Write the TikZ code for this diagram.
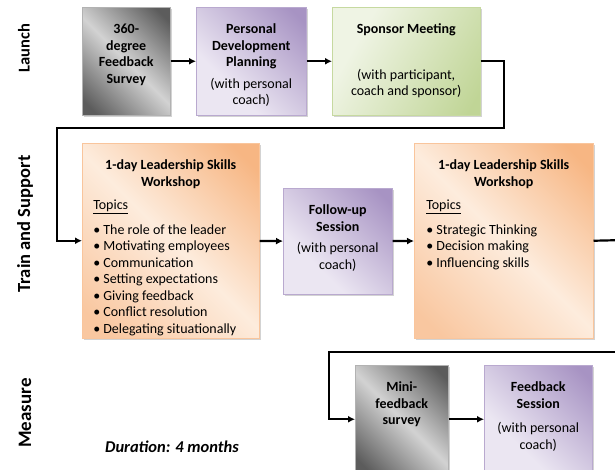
\documentclass[tikz,border=0pt]{standalone}
\usepackage{fontspec}
\setmainfont{Carlito}
\usetikzlibrary{arrows.meta,shadows}
\definecolor{gD}{HTML}{5C5C5C}
\definecolor{gL}{HTML}{D2D2D2}
\definecolor{pL}{HTML}{EBE6F2}
\definecolor{pD}{HTML}{A793C3}
\definecolor{grL}{HTML}{EFF4E4}
\definecolor{grD}{HTML}{C0D596}
\definecolor{oL}{HTML}{FDECDD}
\definecolor{oD}{HTML}{F7B683}
\definecolor{oM}{HTML}{F9C7A0}
\pgfdeclarehorizontalshading{grayshade}{100bp}{color(0bp)=(gD); color(20bp)=(gD); color(50bp)=(gL); color(80bp)=(gD); color(100bp)=(gD)}
\pgfdeclarehorizontalshading{purpleshade}{100bp}{color(0bp)=(pL); color(35bp)=(pL); color(80bp)=(pD); color(100bp)=(pD)}
\pgfdeclarehorizontalshading{greenshade}{100bp}{color(0bp)=(grL); color(30bp)=(grL); color(80bp)=(grD); color(100bp)=(grD)}
\pgfdeclarehorizontalshading{orangeshade}{100bp}{color(0bp)=(oM); color(20bp)=(oM); color(50bp)=(oL); color(80bp)=(oD); color(100bp)=(oD)}
\newcommand{\boxtext}[3]{\parbox[c][#2pt][t]{#1pt}{\vspace*{15pt}\centering #3}}
\tikzset{
  x=1pt, y=-1pt,
  stagebox/.style={rectangle, inner sep=0pt, line width=0.5pt,
    drop shadow={shadow xshift=1.5pt, shadow yshift=-1.5pt, opacity=0.35, fill=gray}},
  graybox/.style={stagebox, shading=grayshade, shading angle=45, draw=gray!60},
  purplebox/.style={stagebox, shading=purpleshade, shading angle=45, draw=pD!80},
  greenbox/.style={stagebox, shading=greenshade, shading angle=-30, draw=grD!90},
  orangebox/.style={stagebox, shading=orangeshade, shading angle=45, draw=oD!80},
  lane/.style={rotate=90, font=\fontsize{#1}{20}\selectfont\bfseries},
  arr/.style={line width=2.2pt, -{Latex[length=7pt,width=7pt]}},
  conn/.style={line width=2.2pt},
}
\begin{document}
\begin{tikzpicture}[font=\fontsize{14}{16.5}\selectfont]
\useasboundingbox (0,0) rectangle (615,470);
\clip (0,0) rectangle (615,470);
% lanes
\node[lane=16.5] (l1) at (24,48) {Launch};
\node[lane=18.5] (l2) at (25,224) {Train and Support};
\node[lane=19] (l3) at (25,413) {Measure};
% launch
\node[graybox, anchor=north west] (s360) at (82,7) {\boxtext{88}{108}{\bfseries\strut 360-\\degree\\Feedback\\Survey}};
\node[purplebox, anchor=north west] (pdp) at (196,7) {\boxtext{110}{108}{\bfseries\strut Personal\\Development\\Planning\par\vspace{5pt}\mdseries(with personal\\coach)}};
\node[greenbox, anchor=north west] (spm) at (332,7) {\boxtext{148}{108}{\bfseries\strut Sponsor Meeting\par\vspace{29pt}\mdseries(with participant,\\coach and sponsor)}};
% train
\node[orangebox, anchor=north west] (w1) at (82,143) {\boxtext{177}{195}{\bfseries\strut 1-day Leadership Skills\\Workshop\par\vspace{7pt}\raggedright\mdseries\leftskip=11pt \underline{Topics}\par\vspace{8pt}%
\textbullet\ The role of the leader\\\textbullet\ Motivating employees\\\textbullet\ Communication\\\textbullet\ Setting expectations\\\textbullet\ Giving feedback\\\textbullet\ Conflict resolution\\\textbullet\ Delegating situationally}};
\node[purplebox, anchor=north west] (fu) at (283,188) {\boxtext{109}{106}{\bfseries\strut Follow-up\\Session\par\vspace{5pt}\mdseries(with personal\\coach)}};
\node[orangebox, anchor=north west] (w2) at (414,143) {\boxtext{179}{195}{\bfseries\strut 1-day Leadership Skills\\Workshop\par\vspace{7pt}\raggedright\mdseries\leftskip=12pt \underline{Topics}\par\vspace{8pt}%
\textbullet\ Strategic Thinking\\\textbullet\ Decision making\\\textbullet\ Influencing skills}};
% measure
\node[graybox, anchor=north west] (mini) at (355,365) {\boxtext{93}{108}{\bfseries\strut Mini-\\feedback\\survey}};
\node[purplebox, anchor=north west] (fs) at (484,365) {\boxtext{108}{108}{\bfseries\strut Feedback\\Session\par\vspace{8pt}\mdseries(with personal\\coach)}};
\node[font=\fontsize{16.5}{18}\selectfont\bfseries\itshape] (dur) at (172,447) {Duration: 4 months};
% connectors
\coordinate (c1) at (504,128);
\coordinate (c2) at (57,128);
\coordinate (r1) at (625,240);
\coordinate (r2) at (625,352);
\coordinate (r3) at (329,352);
\draw[arr] (s360) -- (pdp);
\draw[arr] (pdp) -- (spm);
\draw[arr] (spm.east) -| (c1) -- (c2) |- (w1.west);
\draw[arr] (w1) -- (fu);
\draw[arr] (fu) -- (w2);
\draw[conn] (w2.east) -- (r1);
\draw[arr] (r2) -- (r3) |- (mini.west);
\draw[arr] (mini) -- (fs);
\end{tikzpicture}
\end{document}
